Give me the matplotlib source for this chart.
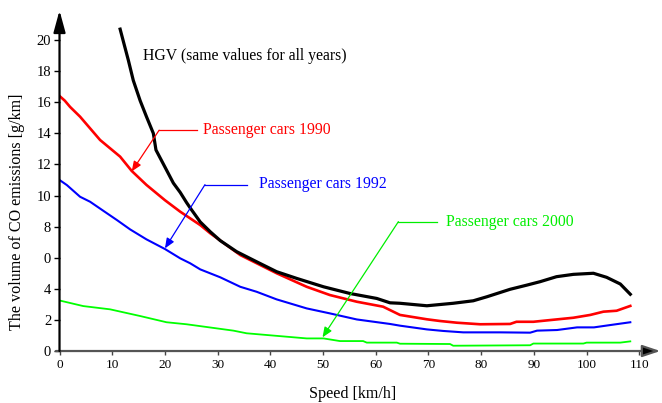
import matplotlib
matplotlib.use('Agg')
import matplotlib.pyplot as plt

# speed [km/h] and CO emissions [g/km]
hgv_x = [11.5, 12.2, 13.06, 14.0, 15.3, 16.5, 17.8, 18.3, 20.3, 21.6, 22.9, 24.1, 24.8, 26.7,
         28.6, 30.5, 33.6, 37.4, 41.2, 45.0, 50.1, 55.1, 60.2, 62.7, 64.6, 69.7, 74.7,
         78.5, 81.1, 85.5, 88.7, 91.2, 94.3, 97.5, 101.3, 103.8, 106.4, 108.3]
hgv_y = [20.7, 19.8, 18.7, 17.4, 16.1, 15.07, 14.0, 12.93, 11.64, 10.8, 10.2, 9.55, 9.2, 8.3,
         7.67, 7.1, 6.39, 5.74, 5.1, 4.67, 4.13, 3.7, 3.38, 3.1, 3.07, 2.91, 3.07,
         3.23, 3.49, 3.97, 4.24, 4.46, 4.78, 4.93, 5.0, 4.74, 4.31, 3.65]

pc1990_x = [0, 1.0, 2.0, 3.9, 7.7, 11.5, 13.7, 16.5, 20.0, 22.9, 24.8, 26.7, 28.6, 34.3,
            41.2, 46.9, 51.3, 56.4, 61.4, 64.6, 69.7, 72.2, 75.4, 79.8, 85.5, 86.7,
            89.9, 93.1, 97.5, 100.7, 103.2, 105.7, 108.3]
pc1990_y = [16.4, 16.1, 15.7, 15.07, 13.57, 12.5, 11.58, 10.68, 9.7, 8.96, 8.53, 8.1, 7.57,
            6.17, 5.0, 4.13, 3.6, 3.17, 2.85, 2.32, 2.04, 1.93, 1.82, 1.72, 1.74, 1.88,
            1.88, 1.99, 2.14, 2.32, 2.53, 2.59, 2.9]

pc1992_x = [0, 1.4, 3.9, 5.8, 8.3, 10.9, 13.4, 16.5, 20.0, 22.9, 24.8, 26.7, 30.5, 34.3,
            37.4, 41.2, 46.9, 51.3, 56.4, 62.7, 64.6, 69.7, 72.8, 76.6, 83.6, 89.3,
            90.6, 94.4, 98.2, 101.4, 104.5, 108.3]
pc1992_y = [11.0, 10.67, 9.92, 9.6, 9.02, 8.42, 7.82, 7.18, 6.56, 5.96, 5.64, 5.25, 4.74, 4.13,
            3.81, 3.32, 2.74, 2.42, 2.03, 1.74, 1.63, 1.39, 1.29, 1.2, 1.2, 1.18,
            1.31, 1.35, 1.52, 1.52, 1.67, 1.85]

pc2000_x = [0, 4.5, 9.6, 15.3, 20.3, 24.1, 26.7, 33.0, 35.5, 39.3, 43.1, 46.9, 50.1, 53.2,
            57.6, 58.3, 64.0, 64.6, 74.1, 74.7, 89.3, 89.9, 99.4, 100.0, 106.4, 108.3]
pc2000_y = [3.25, 2.89, 2.68, 2.25, 1.85, 1.72, 1.6, 1.31, 1.14, 1.03, 0.92, 0.81, 0.81, 0.64,
            0.64, 0.54, 0.54, 0.47, 0.45, 0.34, 0.37, 0.48, 0.48, 0.54, 0.54, 0.62]

x_ticks = [0, 10, 20, 30, 40, 50, 60, 70, 80, 90, 100, 110]
y_ticks = [0, 2, 4, 6, 8, 10, 12, 14, 16, 18, 20]
y_tick_labels = ['0', '2', '4', '0', '8', '10', '12', '14', '16', '18', '20']

# label text, arrow tip, elbow, end of the horizontal leader
labels = [
    ('HGV (same values for all years)', 'black', None, None, None, (15.8, 18.97)),
    ('Passenger cars 1990', '#ff0000', (13.7, 11.55), (18.9, 14.2), 26.0, (27.2, 14.2)),
    ('Passenger cars 1992', '#0000ff', (20.0, 6.6), (27.6, 10.7), 35.5, (37.9, 10.75)),
    ('Passenger cars 2000', '#00ee00', (49.9, 0.88), (64.3, 8.32), 71.6, (73.3, 8.3)),
]

plt.rcParams['font.family'] = ['Liberation Serif', 'DejaVu Serif']

fig = plt.figure(figsize=(6.62, 4.03), dpi=100)
ax = fig.add_axes([0.0899, 0.129, 0.9076, 0.845])

ax.plot(pc2000_x, pc2000_y, color='#00ff00', lw=1.3)
ax.plot(pc1992_x, pc1992_y, color='#0000ff', lw=1.5)
ax.plot(pc1990_x, pc1990_y, color='#ff0000', lw=1.9)
ax.plot(hgv_x, hgv_y, color='black', lw=2.3)

for text, col, tip, elbow, hend, pos in labels:
    if tip is not None:
        ax.plot([elbow[0], hend], [elbow[1], elbow[1]], color=col, lw=0.9)
        ax.annotate('', xy=tip, xytext=elbow,
                    arrowprops=dict(arrowstyle='-|>,head_length=0.6,head_width=0.25',
                                    color=col, lw=0.9, mutation_scale=10,
                                    shrinkA=0, shrinkB=0))
    ax.text(pos[0], pos[1], text, color=col, fontsize=11.3, va='center', ha='left')

ax.set_xlim(0, 114)
ax.set_ylim(0, 21.9)
ax.set_xticks(x_ticks)
ax.set_yticks(y_ticks)
ax.set_yticklabels(y_tick_labels)
ax.tick_params(axis='y', direction='out', length=4, width=1, pad=2, labelsize=10.5)
ax.tick_params(axis='x', direction='out', length=3, width=1, pad=3, labelsize=9.5, color='#444444')

for s in ax.spines.values():
    s.set_visible(False)

# axis lines with arrow heads
ax.annotate('', xy=(1.0, 0), xytext=(-0.006, 0), xycoords='axes fraction',
            arrowprops=dict(arrowstyle='-|>,head_length=0.9,head_width=0.3',
                            color='#555555', fc='black', ec='#555555', lw=1.6,
                            mutation_scale=12, shrinkA=0, shrinkB=0))
ax.annotate('', xy=(0, 1.0), xytext=(0, 0), xycoords='axes fraction',
            arrowprops=dict(arrowstyle='-|>,head_length=1.1,head_width=0.3',
                            color='black', lw=1.6, mutation_scale=12,
                            shrinkA=0, shrinkB=0))

fig.text(17 / 662, 1 - 211.5 / 403, 'The volume of CO emissions [g/km]', rotation=90,
         ha='center', va='center', fontsize=11.6)
fig.text(353 / 662, 1 - 394 / 403, 'Speed [km/h]', ha='center', va='center', fontsize=11.6)

fig.savefig('out.png', dpi=100)
